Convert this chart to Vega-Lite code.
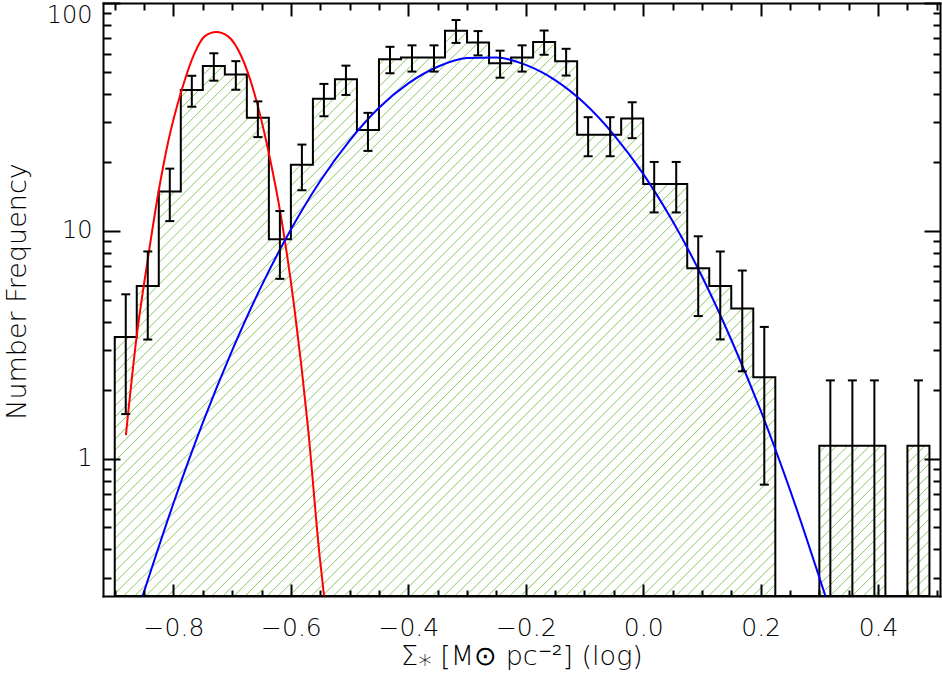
{
  "$schema": "https://vega.github.io/schema/vega-lite/v6.json",
  "width": 837,
  "height": 593,
  "autosize": {"type": "none"},
  "padding": {"left": 103, "top": 3, "right": 2, "bottom": 82},
  "background": "white",
  "config": {
    "view": {"stroke": null},
    "axis": {
      "domainColor": "black", "domainWidth": 2, "domainCap": "square",
      "tickColor": "black", "tickWidth": 2,
      "labelColor": "black", "titleColor": "black",
      "labelFont": "DejaVu Sans", "titleFont": "DejaVu Sans",
      "labelFontWeight": 300,
      "titleFontWeight": 300, "grid": false
    }
  },
  "datasets": {
    "bins": [
      {"x0": -0.9, "x1": -0.8625, "xc": -0.88125, "v": 3.42, "lo": 1.571, "hi": 5.269},
      {"x0": -0.8625, "x1": -0.825, "xc": -0.84375, "v": 5.73, "lo": 3.336, "hi": 8.124},
      {"x0": -0.825, "x1": -0.7875, "xc": -0.80625, "v": 14.9, "lo": 11.04, "hi": 18.76},
      {"x0": -0.7875, "x1": -0.75, "xc": -0.76875, "v": 41.5, "lo": 35.06, "hi": 47.94},
      {"x0": -0.75, "x1": -0.7125, "xc": -0.73125, "v": 52.9, "lo": 45.63, "hi": 60.17},
      {"x0": -0.7125, "x1": -0.675, "xc": -0.69375, "v": 48.6, "lo": 41.63, "hi": 55.57},
      {"x0": -0.675, "x1": -0.6375, "xc": -0.65625, "v": 31.4, "lo": 25.8, "hi": 37.0},
      {"x0": -0.6375, "x1": -0.6, "xc": -0.61875, "v": 9.19, "lo": 6.16, "hi": 12.22},
      {"x0": -0.6, "x1": -0.5625, "xc": -0.58125, "v": 19.5, "lo": 15.08, "hi": 23.92},
      {"x0": -0.5625, "x1": -0.525, "xc": -0.54375, "v": 38.0, "lo": 31.84, "hi": 44.16},
      {"x0": -0.525, "x1": -0.4875, "xc": -0.50625, "v": 46.3, "lo": 39.5, "hi": 53.1},
      {"x0": -0.4875, "x1": -0.45, "xc": -0.46875, "v": 27.7, "lo": 22.44, "hi": 32.96},
      {"x0": -0.45, "x1": -0.4125, "xc": -0.43125, "v": 56.7, "lo": 49.17, "hi": 64.23},
      {"x0": -0.4125, "x1": -0.375, "xc": -0.39375, "v": 57.6, "lo": 50.01, "hi": 65.19},
      {"x0": -0.375, "x1": -0.3375, "xc": -0.35625, "v": 57.6, "lo": 50.01, "hi": 65.19},
      {"x0": -0.3375, "x1": -0.3, "xc": -0.31875, "v": 75.5, "lo": 66.81, "hi": 84.19},
      {"x0": -0.3, "x1": -0.2625, "xc": -0.28125, "v": 67.1, "lo": 58.91, "hi": 75.29},
      {"x0": -0.2625, "x1": -0.225, "xc": -0.24375, "v": 54.4, "lo": 47.02, "hi": 61.78},
      {"x0": -0.225, "x1": -0.1875, "xc": -0.20625, "v": 57.6, "lo": 50.01, "hi": 65.19},
      {"x0": -0.1875, "x1": -0.15, "xc": -0.16875, "v": 67.5, "lo": 59.28, "hi": 75.72},
      {"x0": -0.15, "x1": -0.1125, "xc": -0.13125, "v": 55.5, "lo": 48.05, "hi": 62.95},
      {"x0": -0.1125, "x1": -0.075, "xc": -0.09375, "v": 26.4, "lo": 21.26, "hi": 31.54},
      {"x0": -0.075, "x1": -0.0375, "xc": -0.05625, "v": 26.4, "lo": 21.26, "hi": 31.54},
      {"x0": -0.0375, "x1": 0, "xc": -0.01875, "v": 31.1, "lo": 25.52, "hi": 36.68},
      {"x0": 0, "x1": 0.0375, "xc": 0.01875, "v": 16.06, "lo": 12.05, "hi": 20.07},
      {"x0": 0.0375, "x1": 0.075, "xc": 0.05625, "v": 16.06, "lo": 12.05, "hi": 20.07},
      {"x0": 0.075, "x1": 0.1125, "xc": 0.09375, "v": 6.85, "lo": 4.23, "hi": 9.47},
      {"x0": 0.1125, "x1": 0.15, "xc": 0.13125, "v": 5.73, "lo": 3.34, "hi": 8.12},
      {"x0": 0.15, "x1": 0.1875, "xc": 0.16875, "v": 4.56, "lo": 2.42, "hi": 6.7},
      {"x0": 0.1875, "x1": 0.225, "xc": 0.20625, "v": 2.28, "lo": 0.77, "hi": 3.79},
      {"x0": 0.225, "x1": 0.2625, "xc": 0.24375, "v": 0},
      {"x0": 0.2625, "x1": 0.3, "xc": 0.28125, "v": 0},
      {"x0": 0.3, "x1": 0.3375, "xc": 0.31875, "v": 1.14, "lo": 0.072, "hi": 2.208},
      {"x0": 0.3375, "x1": 0.375, "xc": 0.35625, "v": 1.14, "lo": 0.072, "hi": 2.208},
      {"x0": 0.375, "x1": 0.4125, "xc": 0.39375, "v": 1.14, "lo": 0.072, "hi": 2.208},
      {"x0": 0.4125, "x1": 0.45, "xc": 0.43125, "v": 0},
      {"x0": 0.45, "x1": 0.4875, "xc": 0.46875, "v": 1.14, "lo": 0.072, "hi": 2.208}
    ],
    "red": [
      {"x": -0.881, "y": 1.27}, {"x": -0.863, "y": 3.39}, {"x": -0.843, "y": 7.71},
      {"x": -0.826, "y": 14.55}, {"x": -0.809, "y": 24.6}, {"x": -0.786, "y": 41.5},
      {"x": -0.764, "y": 60.3}, {"x": -0.747, "y": 71.4}, {"x": -0.727, "y": 74.6},
      {"x": -0.707, "y": 71.4}, {"x": -0.684, "y": 58.1}, {"x": -0.662, "y": 40.0},
      {"x": -0.639, "y": 22.8}, {"x": -0.616, "y": 11.22}, {"x": -0.594, "y": 4.57},
      {"x": -0.571, "y": 1.38}, {"x": -0.551, "y": 0.373}, {"x": -0.5435, "y": 0.25}
    ],
    "blue": [
      {"x": -0.8525, "y": 0.25}, {"x": -0.8, "y": 0.638}, {"x": -0.75, "y": 1.44},
      {"x": -0.7, "y": 2.99}, {"x": -0.65, "y": 5.74}, {"x": -0.6, "y": 10.14},
      {"x": -0.55, "y": 16.56}, {"x": -0.5, "y": 24.9}, {"x": -0.45, "y": 34.7},
      {"x": -0.4, "y": 44.4}, {"x": -0.35, "y": 52.5}, {"x": -0.3, "y": 57.3},
      {"x": -0.25, "y": 57.7}, {"x": -0.2, "y": 53.5}, {"x": -0.15, "y": 45.9},
      {"x": -0.1, "y": 36.3}, {"x": -0.05, "y": 26.4}, {"x": 0.0, "y": 17.8},
      {"x": 0.05, "y": 11.04}, {"x": 0.1, "y": 6.32}, {"x": 0.15, "y": 3.33},
      {"x": 0.2, "y": 1.63}, {"x": 0.25, "y": 0.731}, {"x": 0.3103, "y": 0.25}
    ]
  },
  "resolve": {"axis": {"x": "independent", "y": "independent"}},
  "layer": [
    {
      "data": {"name": "bins"},
      "transform": [{"fold": ["x0", "x1"], "as": ["edge", "x"]}],
      "mark": {
        "type": "area", "stroke": "black", "strokeWidth": 2, "interpolate": "linear",
        "invalid": "break-paths-show-domains", "clip": true,
        "fill": {
          "gradient": "linear", "x1": 0, "y1": 0, "x2": 1.14342, "y2": 0.79324,
          "stops": [
{"offset":0.0072,"color":"#fff"},{"offset":0.008,"color":"#93cc6e"},{"offset":0.0088,"color":"#fff"},
{"offset":0.0152,"color":"#fff"},{"offset":0.016,"color":"#93cc6e"},{"offset":0.0168,"color":"#fff"},
{"offset":0.0232,"color":"#fff"},{"offset":0.024,"color":"#93cc6e"},{"offset":0.0248,"color":"#fff"},
{"offset":0.0312,"color":"#fff"},{"offset":0.032,"color":"#93cc6e"},{"offset":0.0328,"color":"#fff"},
{"offset":0.0392,"color":"#fff"},{"offset":0.040,"color":"#93cc6e"},{"offset":0.0408,"color":"#fff"},
{"offset":0.0472,"color":"#fff"},{"offset":0.048,"color":"#93cc6e"},{"offset":0.0488,"color":"#fff"},
{"offset":0.0552,"color":"#fff"},{"offset":0.056,"color":"#93cc6e"},{"offset":0.0568,"color":"#fff"},
{"offset":0.0632,"color":"#fff"},{"offset":0.064,"color":"#93cc6e"},{"offset":0.0648,"color":"#fff"},
{"offset":0.0712,"color":"#fff"},{"offset":0.072,"color":"#93cc6e"},{"offset":0.0728,"color":"#fff"},
{"offset":0.0792,"color":"#fff"},{"offset":0.080,"color":"#93cc6e"},{"offset":0.0808,"color":"#fff"},
{"offset":0.0872,"color":"#fff"},{"offset":0.088,"color":"#93cc6e"},{"offset":0.0888,"color":"#fff"},
{"offset":0.0952,"color":"#fff"},{"offset":0.096,"color":"#93cc6e"},{"offset":0.0968,"color":"#fff"},
{"offset":0.1032,"color":"#fff"},{"offset":0.104,"color":"#93cc6e"},{"offset":0.1048,"color":"#fff"},
{"offset":0.1112,"color":"#fff"},{"offset":0.112,"color":"#93cc6e"},{"offset":0.1128,"color":"#fff"},
{"offset":0.1192,"color":"#fff"},{"offset":0.120,"color":"#93cc6e"},{"offset":0.1208,"color":"#fff"},
{"offset":0.1272,"color":"#fff"},{"offset":0.128,"color":"#93cc6e"},{"offset":0.1288,"color":"#fff"},
{"offset":0.1352,"color":"#fff"},{"offset":0.136,"color":"#93cc6e"},{"offset":0.1368,"color":"#fff"},
{"offset":0.1432,"color":"#fff"},{"offset":0.144,"color":"#93cc6e"},{"offset":0.1448,"color":"#fff"},
{"offset":0.1512,"color":"#fff"},{"offset":0.152,"color":"#93cc6e"},{"offset":0.1528,"color":"#fff"},
{"offset":0.1592,"color":"#fff"},{"offset":0.160,"color":"#93cc6e"},{"offset":0.1608,"color":"#fff"},
{"offset":0.1672,"color":"#fff"},{"offset":0.168,"color":"#93cc6e"},{"offset":0.1688,"color":"#fff"},
{"offset":0.1752,"color":"#fff"},{"offset":0.176,"color":"#93cc6e"},{"offset":0.1768,"color":"#fff"},
{"offset":0.1832,"color":"#fff"},{"offset":0.184,"color":"#93cc6e"},{"offset":0.1848,"color":"#fff"},
{"offset":0.1912,"color":"#fff"},{"offset":0.192,"color":"#93cc6e"},{"offset":0.1928,"color":"#fff"},
{"offset":0.1992,"color":"#fff"},{"offset":0.200,"color":"#93cc6e"},{"offset":0.2008,"color":"#fff"},
{"offset":0.2072,"color":"#fff"},{"offset":0.208,"color":"#93cc6e"},{"offset":0.2088,"color":"#fff"},
{"offset":0.2152,"color":"#fff"},{"offset":0.216,"color":"#93cc6e"},{"offset":0.2168,"color":"#fff"},
{"offset":0.2232,"color":"#fff"},{"offset":0.224,"color":"#93cc6e"},{"offset":0.2248,"color":"#fff"},
{"offset":0.2312,"color":"#fff"},{"offset":0.232,"color":"#93cc6e"},{"offset":0.2328,"color":"#fff"},
{"offset":0.2392,"color":"#fff"},{"offset":0.240,"color":"#93cc6e"},{"offset":0.2408,"color":"#fff"},
{"offset":0.2472,"color":"#fff"},{"offset":0.248,"color":"#93cc6e"},{"offset":0.2488,"color":"#fff"},
{"offset":0.2552,"color":"#fff"},{"offset":0.256,"color":"#93cc6e"},{"offset":0.2568,"color":"#fff"},
{"offset":0.2632,"color":"#fff"},{"offset":0.264,"color":"#93cc6e"},{"offset":0.2648,"color":"#fff"},
{"offset":0.2712,"color":"#fff"},{"offset":0.272,"color":"#93cc6e"},{"offset":0.2728,"color":"#fff"},
{"offset":0.2792,"color":"#fff"},{"offset":0.280,"color":"#93cc6e"},{"offset":0.2808,"color":"#fff"},
{"offset":0.2872,"color":"#fff"},{"offset":0.288,"color":"#93cc6e"},{"offset":0.2888,"color":"#fff"},
{"offset":0.2952,"color":"#fff"},{"offset":0.296,"color":"#93cc6e"},{"offset":0.2968,"color":"#fff"},
{"offset":0.3032,"color":"#fff"},{"offset":0.304,"color":"#93cc6e"},{"offset":0.3048,"color":"#fff"},
{"offset":0.3112,"color":"#fff"},{"offset":0.312,"color":"#93cc6e"},{"offset":0.3128,"color":"#fff"},
{"offset":0.3192,"color":"#fff"},{"offset":0.320,"color":"#93cc6e"},{"offset":0.3208,"color":"#fff"},
{"offset":0.3272,"color":"#fff"},{"offset":0.328,"color":"#93cc6e"},{"offset":0.3288,"color":"#fff"},
{"offset":0.3352,"color":"#fff"},{"offset":0.336,"color":"#93cc6e"},{"offset":0.3368,"color":"#fff"},
{"offset":0.3432,"color":"#fff"},{"offset":0.344,"color":"#93cc6e"},{"offset":0.3448,"color":"#fff"},
{"offset":0.3512,"color":"#fff"},{"offset":0.352,"color":"#93cc6e"},{"offset":0.3528,"color":"#fff"},
{"offset":0.3592,"color":"#fff"},{"offset":0.360,"color":"#93cc6e"},{"offset":0.3608,"color":"#fff"},
{"offset":0.3672,"color":"#fff"},{"offset":0.368,"color":"#93cc6e"},{"offset":0.3688,"color":"#fff"},
{"offset":0.3752,"color":"#fff"},{"offset":0.376,"color":"#93cc6e"},{"offset":0.3768,"color":"#fff"},
{"offset":0.3832,"color":"#fff"},{"offset":0.384,"color":"#93cc6e"},{"offset":0.3848,"color":"#fff"},
{"offset":0.3912,"color":"#fff"},{"offset":0.392,"color":"#93cc6e"},{"offset":0.3928,"color":"#fff"},
{"offset":0.3992,"color":"#fff"},{"offset":0.400,"color":"#93cc6e"},{"offset":0.4008,"color":"#fff"},
{"offset":0.4072,"color":"#fff"},{"offset":0.408,"color":"#93cc6e"},{"offset":0.4088,"color":"#fff"},
{"offset":0.4152,"color":"#fff"},{"offset":0.416,"color":"#93cc6e"},{"offset":0.4168,"color":"#fff"},
{"offset":0.4232,"color":"#fff"},{"offset":0.424,"color":"#93cc6e"},{"offset":0.4248,"color":"#fff"},
{"offset":0.4312,"color":"#fff"},{"offset":0.432,"color":"#93cc6e"},{"offset":0.4328,"color":"#fff"},
{"offset":0.4392,"color":"#fff"},{"offset":0.440,"color":"#93cc6e"},{"offset":0.4408,"color":"#fff"},
{"offset":0.4472,"color":"#fff"},{"offset":0.448,"color":"#93cc6e"},{"offset":0.4488,"color":"#fff"},
{"offset":0.4552,"color":"#fff"},{"offset":0.456,"color":"#93cc6e"},{"offset":0.4568,"color":"#fff"},
{"offset":0.4632,"color":"#fff"},{"offset":0.464,"color":"#93cc6e"},{"offset":0.4648,"color":"#fff"},
{"offset":0.4712,"color":"#fff"},{"offset":0.472,"color":"#93cc6e"},{"offset":0.4728,"color":"#fff"},
{"offset":0.4792,"color":"#fff"},{"offset":0.480,"color":"#93cc6e"},{"offset":0.4808,"color":"#fff"},
{"offset":0.4872,"color":"#fff"},{"offset":0.488,"color":"#93cc6e"},{"offset":0.4888,"color":"#fff"},
{"offset":0.4952,"color":"#fff"},{"offset":0.496,"color":"#93cc6e"},{"offset":0.4968,"color":"#fff"},
{"offset":0.5032,"color":"#fff"},{"offset":0.504,"color":"#93cc6e"},{"offset":0.5048,"color":"#fff"},
{"offset":0.5112,"color":"#fff"},{"offset":0.512,"color":"#93cc6e"},{"offset":0.5128,"color":"#fff"},
{"offset":0.5192,"color":"#fff"},{"offset":0.520,"color":"#93cc6e"},{"offset":0.5208,"color":"#fff"},
{"offset":0.5272,"color":"#fff"},{"offset":0.528,"color":"#93cc6e"},{"offset":0.5288,"color":"#fff"},
{"offset":0.5352,"color":"#fff"},{"offset":0.536,"color":"#93cc6e"},{"offset":0.5368,"color":"#fff"},
{"offset":0.5432,"color":"#fff"},{"offset":0.544,"color":"#93cc6e"},{"offset":0.5448,"color":"#fff"},
{"offset":0.5512,"color":"#fff"},{"offset":0.552,"color":"#93cc6e"},{"offset":0.5528,"color":"#fff"},
{"offset":0.5592,"color":"#fff"},{"offset":0.560,"color":"#93cc6e"},{"offset":0.5608,"color":"#fff"},
{"offset":0.5672,"color":"#fff"},{"offset":0.568,"color":"#93cc6e"},{"offset":0.5688,"color":"#fff"},
{"offset":0.5752,"color":"#fff"},{"offset":0.576,"color":"#93cc6e"},{"offset":0.5768,"color":"#fff"},
{"offset":0.5832,"color":"#fff"},{"offset":0.584,"color":"#93cc6e"},{"offset":0.5848,"color":"#fff"},
{"offset":0.5912,"color":"#fff"},{"offset":0.592,"color":"#93cc6e"},{"offset":0.5928,"color":"#fff"},
{"offset":0.5992,"color":"#fff"},{"offset":0.600,"color":"#93cc6e"},{"offset":0.6008,"color":"#fff"},
{"offset":0.6072,"color":"#fff"},{"offset":0.608,"color":"#93cc6e"},{"offset":0.6088,"color":"#fff"},
{"offset":0.6152,"color":"#fff"},{"offset":0.616,"color":"#93cc6e"},{"offset":0.6168,"color":"#fff"},
{"offset":0.6232,"color":"#fff"},{"offset":0.624,"color":"#93cc6e"},{"offset":0.6248,"color":"#fff"},
{"offset":0.6312,"color":"#fff"},{"offset":0.632,"color":"#93cc6e"},{"offset":0.6328,"color":"#fff"},
{"offset":0.6392,"color":"#fff"},{"offset":0.640,"color":"#93cc6e"},{"offset":0.6408,"color":"#fff"},
{"offset":0.6472,"color":"#fff"},{"offset":0.648,"color":"#93cc6e"},{"offset":0.6488,"color":"#fff"},
{"offset":0.6552,"color":"#fff"},{"offset":0.656,"color":"#93cc6e"},{"offset":0.6568,"color":"#fff"},
{"offset":0.6632,"color":"#fff"},{"offset":0.664,"color":"#93cc6e"},{"offset":0.6648,"color":"#fff"},
{"offset":0.6712,"color":"#fff"},{"offset":0.672,"color":"#93cc6e"},{"offset":0.6728,"color":"#fff"},
{"offset":0.6792,"color":"#fff"},{"offset":0.680,"color":"#93cc6e"},{"offset":0.6808,"color":"#fff"},
{"offset":0.6872,"color":"#fff"},{"offset":0.688,"color":"#93cc6e"},{"offset":0.6888,"color":"#fff"},
{"offset":0.6952,"color":"#fff"},{"offset":0.696,"color":"#93cc6e"},{"offset":0.6968,"color":"#fff"},
{"offset":0.7032,"color":"#fff"},{"offset":0.704,"color":"#93cc6e"},{"offset":0.7048,"color":"#fff"},
{"offset":0.7112,"color":"#fff"},{"offset":0.712,"color":"#93cc6e"},{"offset":0.7128,"color":"#fff"},
{"offset":0.7192,"color":"#fff"},{"offset":0.720,"color":"#93cc6e"},{"offset":0.7208,"color":"#fff"},
{"offset":0.7272,"color":"#fff"},{"offset":0.728,"color":"#93cc6e"},{"offset":0.7288,"color":"#fff"},
{"offset":0.7352,"color":"#fff"},{"offset":0.736,"color":"#93cc6e"},{"offset":0.7368,"color":"#fff"},
{"offset":0.7432,"color":"#fff"},{"offset":0.744,"color":"#93cc6e"},{"offset":0.7448,"color":"#fff"},
{"offset":0.7512,"color":"#fff"},{"offset":0.752,"color":"#93cc6e"},{"offset":0.7528,"color":"#fff"},
{"offset":0.7592,"color":"#fff"},{"offset":0.760,"color":"#93cc6e"},{"offset":0.7608,"color":"#fff"},
{"offset":0.7672,"color":"#fff"},{"offset":0.768,"color":"#93cc6e"},{"offset":0.7688,"color":"#fff"},
{"offset":0.7752,"color":"#fff"},{"offset":0.776,"color":"#93cc6e"},{"offset":0.7768,"color":"#fff"},
{"offset":0.7832,"color":"#fff"},{"offset":0.784,"color":"#93cc6e"},{"offset":0.7848,"color":"#fff"},
{"offset":0.7912,"color":"#fff"},{"offset":0.792,"color":"#93cc6e"},{"offset":0.7928,"color":"#fff"},
{"offset":0.7992,"color":"#fff"},{"offset":0.800,"color":"#93cc6e"},{"offset":0.8008,"color":"#fff"},
{"offset":0.8072,"color":"#fff"},{"offset":0.808,"color":"#93cc6e"},{"offset":0.8088,"color":"#fff"},
{"offset":0.8152,"color":"#fff"},{"offset":0.816,"color":"#93cc6e"},{"offset":0.8168,"color":"#fff"},
{"offset":0.8232,"color":"#fff"},{"offset":0.824,"color":"#93cc6e"},{"offset":0.8248,"color":"#fff"},
{"offset":0.8312,"color":"#fff"},{"offset":0.832,"color":"#93cc6e"},{"offset":0.8328,"color":"#fff"},
{"offset":0.8392,"color":"#fff"},{"offset":0.840,"color":"#93cc6e"},{"offset":0.8408,"color":"#fff"},
{"offset":0.8472,"color":"#fff"},{"offset":0.848,"color":"#93cc6e"},{"offset":0.8488,"color":"#fff"},
{"offset":0.8552,"color":"#fff"},{"offset":0.856,"color":"#93cc6e"},{"offset":0.8568,"color":"#fff"},
{"offset":0.8632,"color":"#fff"},{"offset":0.864,"color":"#93cc6e"},{"offset":0.8648,"color":"#fff"},
{"offset":0.8712,"color":"#fff"},{"offset":0.872,"color":"#93cc6e"},{"offset":0.8728,"color":"#fff"},
{"offset":0.8792,"color":"#fff"},{"offset":0.880,"color":"#93cc6e"},{"offset":0.8808,"color":"#fff"},
{"offset":0.8872,"color":"#fff"},{"offset":0.888,"color":"#93cc6e"},{"offset":0.8888,"color":"#fff"},
{"offset":0.8952,"color":"#fff"},{"offset":0.896,"color":"#93cc6e"},{"offset":0.8968,"color":"#fff"},
{"offset":0.9032,"color":"#fff"},{"offset":0.904,"color":"#93cc6e"},{"offset":0.9048,"color":"#fff"},
{"offset":0.9112,"color":"#fff"},{"offset":0.912,"color":"#93cc6e"},{"offset":0.9128,"color":"#fff"},
{"offset":0.9192,"color":"#fff"},{"offset":0.920,"color":"#93cc6e"},{"offset":0.9208,"color":"#fff"},
{"offset":0.9272,"color":"#fff"},{"offset":0.928,"color":"#93cc6e"},{"offset":0.9288,"color":"#fff"},
{"offset":0.9352,"color":"#fff"},{"offset":0.936,"color":"#93cc6e"},{"offset":0.9368,"color":"#fff"},
{"offset":0.9432,"color":"#fff"},{"offset":0.944,"color":"#93cc6e"},{"offset":0.9448,"color":"#fff"},
{"offset":0.9512,"color":"#fff"},{"offset":0.952,"color":"#93cc6e"},{"offset":0.9528,"color":"#fff"},
{"offset":0.9592,"color":"#fff"},{"offset":0.960,"color":"#93cc6e"},{"offset":0.9608,"color":"#fff"},
{"offset":0.9672,"color":"#fff"},{"offset":0.968,"color":"#93cc6e"},{"offset":0.9688,"color":"#fff"},
{"offset":0.9752,"color":"#fff"},{"offset":0.976,"color":"#93cc6e"},{"offset":0.9768,"color":"#fff"},
{"offset":0.9832,"color":"#fff"},{"offset":0.984,"color":"#93cc6e"},{"offset":0.9848,"color":"#fff"},
{"offset":0.9912,"color":"#fff"},{"offset":0.992,"color":"#93cc6e"},{"offset":0.9928,"color":"#fff"}
          ]
        }
      },
      "encoding": {
        "x": {
          "field": "x", "type": "quantitative",
          "scale": {"domain": [-0.92, 0.5055], "nice": false, "zero": false},
          "axis": {
            "orient": "bottom",
            "values": [-0.9, -0.85, -0.8, -0.75, -0.7, -0.65, -0.6, -0.55, -0.5, -0.45, -0.4, -0.35, -0.3, -0.25, -0.2, -0.15, -0.1, -0.05, 0, 0.05, 0.1, 0.15, 0.2, 0.25, 0.3, 0.35, 0.4, 0.45, 0.5],
            "labelExpr": "abs(datum.value*5 - round(datum.value*5)) < 0.001 ? format(datum.value, '.1f') : ''",
            "tickSize": {"condition": {"test": "abs(datum.value*5 - round(datum.value*5)) < 0.001", "value": -12}, "value": -6},
            "labelPadding": 31, "labelFontSize": 25,
            "labelFlush": false, "labelOverlap": false, "labelBound": false,
            "title": "Σ⁎ [M⊙ pc⁻²] (log)", "titleFontSize": 27,
            "titleY": 68, "titleBaseline": "alphabetic",
            "zindex": 1
          }
        },
        "y": {
          "field": "v", "type": "quantitative", "stack": null,
          "scale": {"type": "log", "domain": [0.25, 100], "clamp": true, "nice": false},
          "axis": {
            "orient": "left",
            "values": [0.3, 0.4, 0.5, 0.6, 0.7, 0.8, 0.9, 1, 2, 3, 4, 5, 6, 7, 8, 9, 10, 20, 30, 40, 50, 60, 70, 80, 90, 100],
            "labelExpr": "datum.value == 1 || datum.value == 10 || datum.value == 100 ? format(datum.value, 'd') : ''",
            "tickSize": {"condition": {"test": "datum.value == 1 || datum.value == 10 || datum.value == 100", "value": -17}, "value": -8},
            "labelPadding": 28, "labelFontSize": 24, "labelFlush": true, "labelOverlap": false,
            "title": "Number Frequency", "titleFontSize": 27,
            "titleX": -78, "titleY": 288, "titleAngle": -90,
            "titleBaseline": "alphabetic", "titleAlign": "center",
            "zindex": 1
          }
        },
        "y2": {"datum": 0.25},
        "order": [
          {"field": "x", "type": "quantitative", "sort": "ascending"},
          {"field": "edge", "type": "nominal", "sort": "descending"}
        ]
      }
    },
    {
      "data": {"name": "red"},
      "mark": {"type": "line", "color": "#ff0000", "strokeWidth": 2, "interpolate": "monotone", "clip": true},
      "encoding": {
        "x": {"field": "x", "type": "quantitative", "scale": {"domain": [-0.92, 0.5055], "nice": false, "zero": false}, "axis": null},
        "y": {"field": "y", "type": "quantitative", "scale": {"type": "log", "domain": [0.25, 100], "clamp": true, "nice": false}, "axis": null}
      }
    },
    {
      "data": {"name": "blue"},
      "mark": {"type": "line", "color": "#0000ff", "strokeWidth": 2, "interpolate": "monotone", "clip": true},
      "encoding": {
        "x": {"field": "x", "type": "quantitative", "scale": {"domain": [-0.92, 0.5055], "nice": false, "zero": false}, "axis": null},
        "y": {"field": "y", "type": "quantitative", "scale": {"type": "log", "domain": [0.25, 100], "clamp": true, "nice": false}, "axis": null}
      }
    },
    {
      "data": {"name": "bins"},
      "transform": [{"filter": "datum.v > 0"}],
      "mark": {"type": "rule", "color": "black", "strokeWidth": 2, "clip": true},
      "encoding": {
        "x": {
          "field": "xc", "type": "quantitative",
          "scale": {"domain": [-0.92, 0.5055], "nice": false, "zero": false},
          "axis": {
            "orient": "top",
            "values": [-0.9, -0.85, -0.8, -0.75, -0.7, -0.65, -0.6, -0.55, -0.5, -0.45, -0.4, -0.35, -0.3, -0.25, -0.2, -0.15, -0.1, -0.05, 0, 0.05, 0.1, 0.15, 0.2, 0.25, 0.3, 0.35, 0.4, 0.45, 0.5],
            "labels": false, "title": null,
            "tickSize": {"condition": {"test": "abs(datum.value*5 - round(datum.value*5)) < 0.001", "value": -13}, "value": -7},
            "zindex": 1
          }
        },
        "y": {
          "field": "lo", "type": "quantitative",
          "scale": {"type": "log", "domain": [0.25, 100], "clamp": true, "nice": false},
          "axis": {
            "orient": "right",
            "values": [0.3, 0.4, 0.5, 0.6, 0.7, 0.8, 0.9, 1, 2, 3, 4, 5, 6, 7, 8, 9, 10, 20, 30, 40, 50, 60, 70, 80, 90, 100],
            "labels": false, "title": null,
            "tickSize": {"condition": {"test": "datum.value == 1 || datum.value == 10 || datum.value == 100", "value": -16}, "value": -7},
            "zindex": 1
          }
        },
        "y2": {"field": "hi"}
      }
    },
    {
      "data": {"name": "bins"},
      "transform": [{"filter": "datum.v > 0"}],
      "mark": {"type": "tick", "orient": "horizontal", "size": 9, "thickness": 2, "color": "black", "opacity": 1, "clip": true},
      "encoding": {
        "x": {"field": "xc", "type": "quantitative", "scale": {"domain": [-0.92, 0.5055], "nice": false, "zero": false}, "axis": null},
        "y": {"field": "hi", "type": "quantitative", "scale": {"type": "log", "domain": [0.25, 100], "clamp": true, "nice": false}, "axis": null}
      }
    },
    {
      "data": {"name": "bins"},
      "transform": [{"filter": "datum.v > 0 && datum.lo > 0.25"}],
      "mark": {"type": "tick", "orient": "horizontal", "size": 9, "thickness": 2, "color": "black", "opacity": 1, "clip": true},
      "encoding": {
        "x": {"field": "xc", "type": "quantitative", "scale": {"domain": [-0.92, 0.5055], "nice": false, "zero": false}, "axis": null},
        "y": {"field": "lo", "type": "quantitative", "scale": {"type": "log", "domain": [0.25, 100], "clamp": true, "nice": false}, "axis": null}
      }
    }
  ]
}
